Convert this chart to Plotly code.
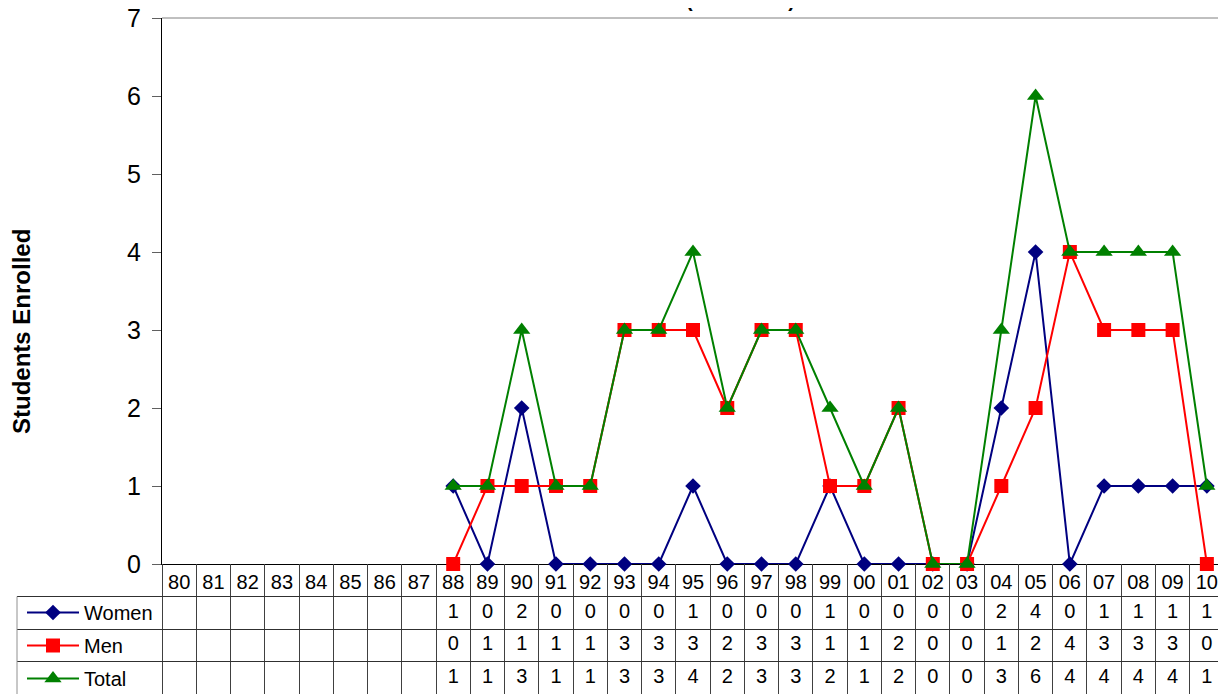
import plotly.graph_objects as go

# academic years (two-digit)
years = ["80", "81", "82", "83", "84", "85", "86", "87", "88", "89",
         "90", "91", "92", "93", "94", "95", "96", "97", "98", "99",
         "00", "01", "02", "03", "04", "05", "06", "07", "08", "09", "10"]

women = [None, None, None, None, None, None, None, None,
         1, 0, 2, 0, 0, 0, 0, 1, 0, 0, 0, 1, 0, 0, 0, 0, 2, 4, 0, 1, 1, 1, 1]
men = [None, None, None, None, None, None, None, None,
       0, 1, 1, 1, 1, 3, 3, 3, 2, 3, 3, 1, 1, 2, 0, 0, 1, 2, 4, 3, 3, 3, 0]
total = [None, None, None, None, None, None, None, None,
         1, 1, 3, 1, 1, 3, 3, 4, 2, 3, 3, 2, 1, 2, 0, 0, 3, 6, 4, 4, 4, 4, 1]

series_names = ["Women", "Men", "Total"]
series_colors = ["#000080", "#FF0000", "#008000"]
series_symbols = ["diamond", "square", "triangle-up"]
series_sizes = [12, 14, 15]

font_family = "Arial, Liberation Sans, sans-serif"

# page layout in pixels (screen positions, page has an 8px body margin)
W, H = 1226, 694
off = 8
plot_left, plot_right = 162 - off, 1224 - off
plot_top, plot_bottom = 18 - off, 564 - off
table_left = 17 - off
table_bottom = 694 - off

col_w = (plot_right - plot_left) / len(years)
table_x0 = -0.5 - (plot_left - table_left) / col_w

figure = go.Figure()

# lines in the chart
for name, values, color, symbol, size in zip(series_names, [women, men, total],
                                             series_colors, series_symbols, series_sizes):
    figure.add_trace(go.Scatter(
        x = years,
        y = values,
        mode = "lines+markers",
        name = name,
        line = dict(color = color, width = 2),
        marker = dict(color = color, symbol = symbol, size = size),
        cliponaxis = False,
        legendgroup = name,
        xaxis = "x",
        yaxis = "y",
    ))

# data table values (row 2.5 = Women, 1.5 = Men, 0.5 = Total)
for row, values in zip([2.5, 1.5, 0.5], [women, men, total]):
    figure.add_trace(go.Scatter(
        x = years,
        y = [row] * len(years),
        mode = "text",
        text = ["" if v is None else str(v) for v in values],
        textfont = dict(family = font_family, size = 20, color = "black"),
        showlegend = False,
        hoverinfo = "skip",
        xaxis = "x2",
        yaxis = "y2",
    ))

figure.update_layout(
    width = W,
    height = H,
    margin = dict(l = 0, r = 0, t = 0, b = 0, autoexpand = False),
    paper_bgcolor = "white",
    plot_bgcolor = "white",
    font = dict(family = font_family, color = "black"),
    showlegend = True,
    legend = dict(
        x = (table_left + 5) / W,
        y = (H - (593 - off)) / H,
        xanchor = "left",
        yanchor = "top",
        font = dict(size = 20),
        itemwidth = 52,
        tracegroupgap = 4,
        bgcolor = "rgba(0,0,0,0)",
        traceorder = "grouped",
    ),
    xaxis = dict(
        domain = [plot_left / W, plot_right / W],
        type = "category",
        categoryorder = "array",
        categoryarray = years,
        range = [-0.5, len(years) - 0.5],
        showline = True,
        linecolor = "black",
        linewidth = 1,
        ticks = "",
        showgrid = False,
        tickfont = dict(size = 20),
        anchor = "y",
        layer = "below traces",
    ),
    yaxis = dict(
        domain = [(H - plot_bottom) / H, (H - plot_top) / H],
        range = [0, 7],
        dtick = 1,
        showline = True,
        linecolor = "black",
        linewidth = 1,
        ticks = "outside",
        ticklen = 9,
        tickcolor = "#606060",
        showgrid = False,
        zeroline = False,
        tickfont = dict(size = 25),
        ticklabelstandoff = 6,
        ticklabeloverflow = "allow",
        anchor = "x",
        layer = "below traces",
    ),
    xaxis2 = dict(
        domain = [table_left / W, plot_right / W],
        type = "category",
        categoryorder = "array",
        categoryarray = years,
        range = [table_x0, len(years) - 0.5],
        tickson = "boundaries",
        showgrid = True,
        gridcolor = "#404040",
        gridwidth = 1,
        showticklabels = False,
        ticks = "",
        anchor = "y2",
    ),
    yaxis2 = dict(
        domain = [(H - table_bottom) / H, (H - plot_bottom) / H],
        range = [0, 4],
        tickvals = [1, 2, 3],
        showgrid = True,
        gridcolor = "#303030",
        gridwidth = 1,
        showticklabels = False,
        ticks = "",
        zeroline = False,
        anchor = "x2",
    ),
)

# top and right frame of the plot area, left border of the legend column
figure.add_shape(type = "line", xref = "x domain", yref = "y domain",
                 x0 = 0, x1 = 1, y0 = 1, y1 = 1, line = dict(color = "#808080", width = 1))
figure.add_shape(type = "line", xref = "x domain", yref = "y domain",
                 x0 = 1, x1 = 1, y0 = 0, y1 = 1, line = dict(color = "#808080", width = 1))
figure.add_shape(type = "line", xref = "x2 domain", yref = "y2",
                 x0 = 0, x1 = 0, y0 = 0, y1 = 3, line = dict(color = "#909090", width = 1))

figure.add_annotation(
    text = "<b>Students Enrolled</b>",
    textangle = -90,
    xref = "paper", yref = "paper",
    x = (21 - off) / W, y = (H - (332 - off)) / H,
    xanchor = "center", yanchor = "middle",
    showarrow = False,
    font = dict(size = 24),
)

# chart title, mostly above the visible page
figure.add_annotation(
    text = "<b>Enrollment (1988-2010)</b>",
    xref = "paper", yref = "paper",
    x = (797 - off) / W, y = 1,
    xanchor = "right", yanchor = "bottom",
    yshift = -5,
    showarrow = False,
    font = dict(size = 20),
)

figure.write_html("out.html")
